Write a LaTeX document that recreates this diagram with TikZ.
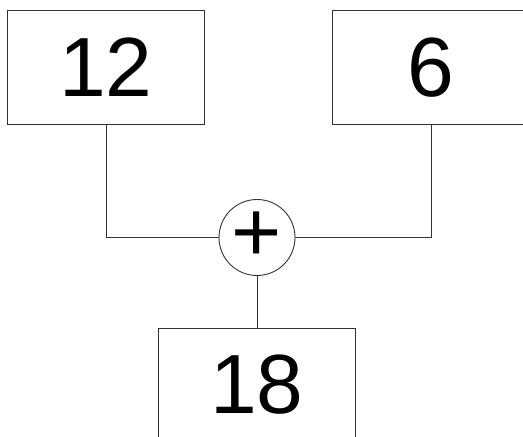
\documentclass[tikz,border=0pt]{standalone}
\usepackage{fontspec}
\setmainfont{Liberation Sans}
\begin{document}
\begin{tikzpicture}[x=1pt,y=-1pt,
  numbox/.style={draw=black!80,line width=0.9pt,minimum width=196.5pt,minimum height=113.5pt,inner sep=0pt,font=\fontsize{84}{84}\selectfont},
  sumnode/.style={draw=black!80,line width=0.9pt,circle,minimum size=76pt,inner sep=0pt},
  wire/.style={draw=black!80,line width=0.9pt}]
\useasboundingbox (0,0) rectangle (523,437);
\clip (0,0) rectangle (523,437);
\node[numbox] (a) at (106,67.3) {12};
\node[numbox] (b) at (431,67.3) {6};
\node[numbox] (c) at (257,385) {18};
\node[sumnode] (s) at (257,237.5) {};
\node[inner sep=0pt,font=\fontsize{86}{86}\selectfont] (plus) at ([yshift=1pt]s.center) {+};
\draw[wire] (a.south) |- (s.west);
\draw[wire] (b.south) |- (s.east);
\draw[wire] (s.south) -- (c.north);
\end{tikzpicture}
\end{document}
